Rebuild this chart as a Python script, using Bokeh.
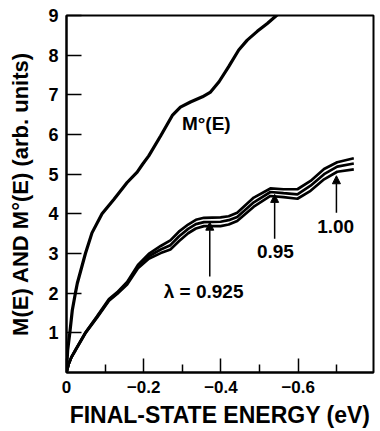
from bokeh.plotting import figure
from bokeh.models import Range1d, FixedTicker, Arrow, NormalHead, Label
from bokeh.embed import file_html
from bokeh.resources import INLINE

# M°(E) curve
m0_x = [0, -0.003, -0.0086, -0.015, -0.023, -0.028, -0.049, -0.066, -0.092, -0.123, -0.157,
        -0.183, -0.197, -0.213, -0.244, -0.274, -0.295, -0.321, -0.352, -0.373, -0.395,
        -0.42, -0.446, -0.468, -0.494, -0.52, -0.546, -0.56]
m0_y = [0, 0.56, 1.0, 1.57, 2.0, 2.25, 3.0, 3.52, 4.0, 4.37, 4.79,
        5.05, 5.25, 5.46, 5.97, 6.48, 6.69, 6.82, 6.95, 7.07, 7.33,
        7.71, 8.13, 8.38, 8.6, 8.8, 9.02, 9.15]

# M(E) curves for three lambda values
me_x = [0, -0.006, -0.013, -0.023, -0.049, -0.079, -0.11, -0.131, -0.157, -0.185, -0.213,
        -0.244, -0.269, -0.291, -0.315, -0.335, -0.356, -0.399, -0.42, -0.442, -0.485,
        -0.528, -0.562, -0.598, -0.632, -0.667, -0.701, -0.744]
me_lam_0925 = [0, 0.22, 0.39, 0.57, 1.01, 1.42, 1.85, 2.02, 2.28, 2.71, 2.99,
               3.19, 3.33, 3.55, 3.73, 3.85, 3.9, 3.91, 3.94, 4.03, 4.41,
               4.64, 4.62, 4.62, 4.83, 5.13, 5.3, 5.4]
me_lam_095 = [0, 0.22, 0.39, 0.56, 1.0, 1.4, 1.83, 2.0, 2.25, 2.67, 2.93,
              3.1, 3.21, 3.43, 3.62, 3.74, 3.79, 3.8, 3.84, 3.92, 4.29,
              4.55, 4.52, 4.49, 4.71, 5.0, 5.19, 5.27]
me_lam_100 = [0, 0.22, 0.39, 0.55, 0.99, 1.38, 1.81, 1.98, 2.22, 2.63, 2.87,
              3.01, 3.1, 3.31, 3.51, 3.63, 3.69, 3.69, 3.73, 3.82, 4.18,
              4.45, 4.42, 4.38, 4.58, 4.87, 5.06, 5.12]

# annotation texts and positions (data units)
label_texts = ["M°(E)", "λ = 0.925", "0.95", "1.00"]
label_x = [-0.362, -0.355, -0.541, -0.697]
label_y = [6.27, 2.04, 3.05, 3.69]

arrow_x = [-0.371, -0.539, -0.699]
arrow_y0 = [2.42, 3.37, 4.03]
arrow_y1 = [3.79, 4.49, 4.96]

x_major = [0, -0.2, -0.4, -0.6]
x_minor = [-0.1, -0.3, -0.5, -0.7]
y_major = [1, 2, 3, 4, 5, 6, 7, 8, 9]

x_title = "FINAL-STATE ENERGY (eV)"
y_title = "M(E) AND M°(E) (arb. units)"

FONT = "Liberation Sans"

p = figure(width=380, height=431, output_backend="svg", toolbar_location=None,
           x_range=Range1d(0, -0.795), y_range=Range1d(0, 9),
           min_border_left=66, min_border_right=7, min_border_top=15,
           min_border_bottom=59)
p.grid.visible = False
p.outline_line_color = "black"
p.outline_line_width = 2
p.background_fill_color = "white"
p.border_fill_color = "white"

xa = p.xaxis[0]
xa.ticker = FixedTicker(ticks=x_major, minor_ticks=x_minor)
xa.major_tick_in = 14
xa.major_tick_out = 0
xa.minor_tick_in = 8
xa.minor_tick_out = 0
xa.major_tick_line_width = 1.5
xa.minor_tick_line_width = 1.5
xa.axis_line_width = 2
xa.major_label_standoff = 8
xa.major_label_text_font = FONT
xa.major_label_text_font_style = "bold"
xa.major_label_text_font_size = "17px"
xa.major_label_text_color = "black"
xa.axis_label = x_title
xa.axis_label_text_font = FONT
xa.axis_label_text_font_style = "bold"
xa.axis_label_text_font_size = "23px"
xa.axis_label_text_color = "black"
xa.axis_label_standoff = 6

ya = p.yaxis[0]
ya.ticker = FixedTicker(ticks=y_major, minor_ticks=[])
ya.major_tick_in = 15
ya.major_tick_out = 0
ya.minor_tick_in = 0
ya.minor_tick_out = 0
ya.major_tick_line_width = 1.5
ya.axis_line_width = 2
ya.major_label_standoff = 8
ya.major_label_text_font = FONT
ya.major_label_text_font_style = "bold"
ya.major_label_text_font_size = "18px"
ya.major_label_text_color = "black"
ya.axis_label = y_title
ya.axis_label_text_font = FONT
ya.axis_label_text_font_style = "bold"
ya.axis_label_text_font_size = "22px"
ya.axis_label_text_color = "black"
ya.axis_label_standoff = 12

p.line(m0_x, m0_y, line_width=3.2, color="black")
for ys in (me_lam_0925, me_lam_095, me_lam_100):
    p.line(me_x, ys, line_width=2.7, color="black")

for t, x, y in zip(label_texts, label_x, label_y):
    p.add_layout(Label(x=x, y=y, text=t, text_align="center", text_baseline="middle",
                       text_font=FONT, text_font_style="bold", text_font_size="19px",
                       text_color="black"))

for x, y0, y1 in zip(arrow_x, arrow_y0, arrow_y1):
    p.add_layout(Arrow(end=NormalHead(size=8, fill_color="black", line_color="black"),
                       x_start=x, y_start=y0, x_end=x, y_end=y1,
                       line_width=1.5, line_color="black"))

open("out.html", "w").write(file_html(p, INLINE))
